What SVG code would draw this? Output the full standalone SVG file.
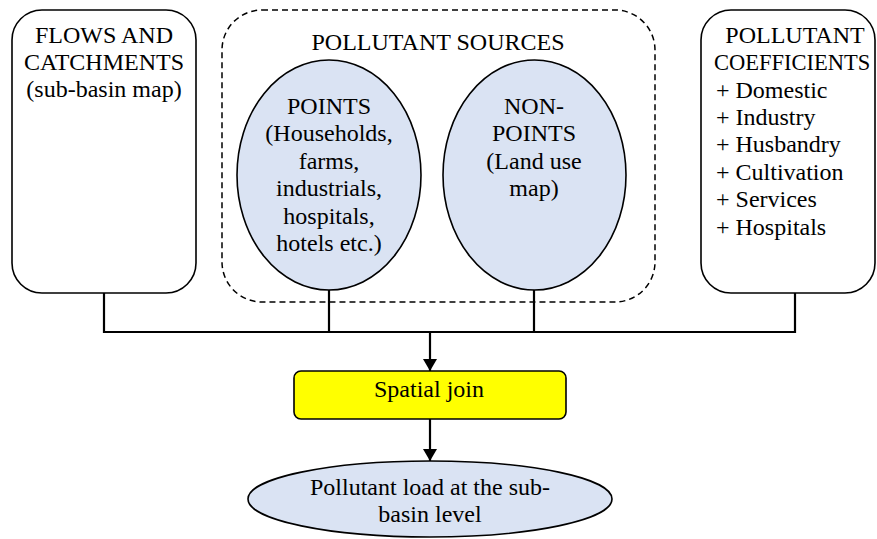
<svg xmlns="http://www.w3.org/2000/svg" width="877" height="539" viewBox="0 0 877 539">
<defs>
<style>
text{font-family:'Liberation Serif','Times New Roman',Times,'DejaVu Serif',serif;font-size:24px;fill:#000}
.c{text-anchor:middle}
.box{fill:#fff;stroke:#000;stroke-width:1.6}
.ell{fill:#dae3f3;stroke:#000;stroke-width:1.6}
.con{fill:none;stroke:#000;stroke-width:2.2}
</style>
<marker id="arr" viewBox="0 0 12 14" refX="12" refY="7" markerWidth="12" markerHeight="14" markerUnits="userSpaceOnUse" orient="auto">
<path d="M0,0 L12,7 L0,14 Z" fill="#000"/>
</marker>
</defs>
<rect width="877" height="539" fill="#fff"/>
<g id="flows">
<rect class="box" x="12" y="10" width="184" height="283" rx="30"/>
<text class="c" x="104" y="43">FLOWS AND</text>
<text class="c" x="104" y="70">CATCHMENTS</text>
<text class="c" x="104" y="97">(sub-basin map)</text>
</g>
<g id="sources">
<rect x="222" y="10" width="433" height="292" rx="40" fill="none" stroke="#000" stroke-width="1.5" stroke-dasharray="6,4"/>
<text class="c" x="438" y="50">POLLUTANT SOURCES</text>
</g>
<g id="points">
<ellipse class="ell" cx="329" cy="175" rx="92" ry="115"/>
<text class="c" x="329" y="114">POINTS</text>
<text class="c" x="329" y="141">(Households,</text>
<text class="c" x="329" y="169">farms,</text>
<text class="c" x="329" y="196">industrials,</text>
<text class="c" x="329" y="224">hospitals,</text>
<text class="c" x="329" y="251">hotels etc.)</text>
</g>
<g id="nonpoints">
<ellipse class="ell" cx="534.5" cy="175" rx="91.5" ry="115"/>
<text class="c" x="534" y="114">NON-</text>
<text class="c" x="534" y="141">POINTS</text>
<text class="c" x="534" y="169">(Land use</text>
<text class="c" x="534" y="196">map)</text>
</g>
<g id="coefficients">
<rect class="box" x="701" y="10" width="174" height="283" rx="30"/>
<text class="c" x="795" y="43">POLLUTANT</text>
<text x="714" y="70" style="font-size:22.5px">COEFFICIENTS</text>
<text x="716" y="98">+ Domestic</text>
<text x="716" y="125">+ Industry</text>
<text x="716" y="152">+ Husbandry</text>
<text x="716" y="180">+ Cultivation</text>
<text x="716" y="207">+ Services</text>
<text x="716" y="235">+ Hospitals</text>
</g>
<g id="connectors">
<path class="con" d="M104,293 V332 H795 V293"/>
<path class="con" d="M329,290 V332 M534,290 V332"/>
<path class="con" stroke-width="3" d="M329,332 H534"/>
<path class="con" d="M430,332 V371" marker-end="url(#arr)"/>
<path class="con" d="M430,419 V461" marker-end="url(#arr)"/>
</g>
<g id="spatialjoin">
<rect x="294" y="371" width="272" height="48" rx="7" fill="#ffff00" stroke="#000" stroke-width="1.6"/>
<text class="c" x="429" y="397">Spatial join</text>
</g>
<g id="load">
<ellipse class="ell" cx="430" cy="499" rx="182" ry="38"/>
<text class="c" x="430" y="495">Pollutant load at the sub-</text>
<text class="c" x="430" y="522">basin level</text>
</g>
</svg>
